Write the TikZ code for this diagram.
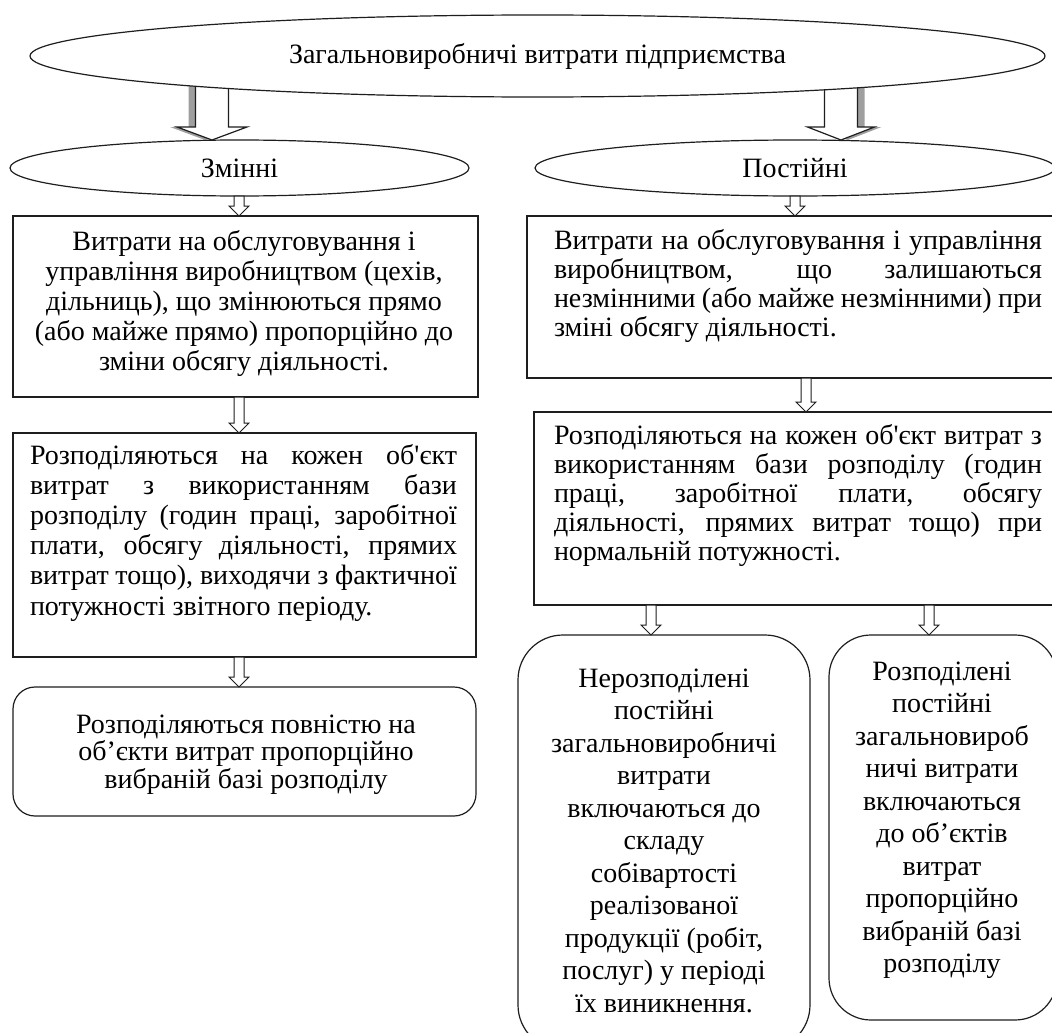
\documentclass[tikz,border=0pt]{standalone}
\usepackage{fontspec}
\setmainfont{Liberation Serif}
\usetikzlibrary{calc,shapes.geometric}
\newcommand\jl[2]{\makebox[#1][s]{#2}}
\newcommand\apos{\textquotesingle}
% hollow block arrow: [opts]{start}{end}{x}{half shaft}{half head}{head length}
\newcommand\barrow[7][]{%
  \draw[arr,#1] let \p1=(#2), \p2=(#3) in
  ({#4pt-#5pt},\y1) -- ({#4pt-#5pt},{\y2+#7pt}) -- ({#4pt-#6pt},{\y2+#7pt}) -- (#4pt,\y2)
  -- ({#4pt+#6pt},{\y2+#7pt}) -- ({#4pt+#5pt},{\y2+#7pt}) -- ({#4pt+#5pt},\y1) -- cycle;}
\definecolor{lc}{HTML}{1E1E1E}
\begin{document}
\begin{tikzpicture}[x=1pt,y=-1pt,
  every node/.style={inner sep=0pt, outer sep=0pt},
  bx/.style={draw=lc, line width=1.2pt, rectangle, anchor=north west},
  rbx/.style={bx, rounded corners=#1},
  ell/.style={draw=lc, line width=1.2pt, ellipse, fill=white, font=\fontsize{28}{30}\selectfont},
  arr/.style={draw=lc, line width=1pt, fill=white, line join=miter},
  shd/.style={fill=black!50, draw=none, opacity=0.75},
  tx/.style={font=\fontsize{28}{30}\selectfont, align=center},
  tj/.style={font=\fontsize{28}{30}\selectfont, align=left, anchor=west},
]
\useasboundingbox (0,0) rectangle (1052,1033);
\fill[white] (0,0) rectangle (1052,1033);

% second-level ellipses
\node[ell, minimum width=459pt, minimum height=56pt] (e1) at (239.5,168) {Змінні};
\node[ell, minimum width=520pt, minimum height=56pt] (e2) at (795,168) {Постійні};

% big arrows from the top ellipse
\coordinate (ta) at (212,80);
\coordinate (tb) at (841,80);
\barrow[shd,xshift=-7pt,yshift=-4pt]{ta}{e1.north}{212}{16.5}{35}{13}
\barrow[line width=1.2pt]{ta}{e1.north}{212}{16.5}{35}{13}
\barrow[shd,xshift=7pt,yshift=-4pt]{tb}{e2.north}{841}{16.5}{33.5}{13}
\barrow[line width=1.2pt]{tb}{e2.north}{841}{16.5}{33.5}{13}

% top ellipse
\node[ell, minimum width=1015pt, minimum height=82pt] (e0) at (537.5,56) {Загальновиробничі витрати підприємства};

% boxes
\node[bx, minimum width=465pt, minimum height=181pt] (b1l) at (13,216) {};
\node[bx, minimum width=535pt, minimum height=162pt] (b1r) at (527,216) {};
\node[bx, minimum width=463pt, minimum height=224pt] (b2l) at (13,433) {};
\node[bx, minimum width=528pt, minimum height=193pt] (b2r) at (534,412) {};
\node[rbx=22pt, minimum width=463pt, minimum height=129pt] (d) at (13,687) {};
\node[rbx=45pt, minimum width=292pt, minimum height=415pt] (c1) at (518,635) {};
\node[rbx=42pt, minimum width=228pt, minimum height=385pt] (c2) at (829,635) {};

% small arrows
\barrow{e1.south}{b1l.north}{239}{5}{10}{10}
\barrow{e2.south}{b1r.north}{795}{5}{10}{10}
\barrow{b1l.south}{b2l.north}{239}{5}{10}{10}
\barrow{b1r.south}{b2r.north}{806}{5}{10}{10}
\barrow{b2r.south}{c1.north}{651}{5}{10}{10}
\barrow{b2r.south}{c2.north}{929}{5}{10}{10}
\barrow{b2l.south}{d.north}{239}{5}{10}{10}

% texts
\node[tx] (t1l) at (244,303) {Витрати на обслуговування і\\управління виробництвом (цехів,\\дільниць), що змінюються прямо\\(або майже прямо) пропорційно до\\зміни обсягу діяльності.};
\node[tj, font=\fontsize{28}{28.7}\selectfont] (t1r) at (554,286) {\jl{488pt}{Витрати на обслуговування і управління}\\\jl{488pt}{виробництвом, що залишаються}\\\jl{488pt}{незмінними (або майже незмінними) при}\\зміні обсягу діяльності.};
\node[tj, font=\fontsize{28}{30.2}\selectfont] (t2l) at (30,532.5) {\jl{427pt}{Розподіляються на кожен об\apos єкт}\\\jl{427pt}{витрат з використанням бази}\\\jl{427pt}{розподілу (годин праці, заробітної}\\\jl{427pt}{плати, обсягу діяльності, прямих}\\\jl{427pt}{витрат тощо), виходячи з фактичної}\\потужності звітного періоду.};
\node[tj, font=\fontsize{28}{29}\selectfont] (t2r) at (554,495) {\jl{488pt}{Розподіляються на кожен об\apos єкт витрат з}\\\jl{488pt}{використанням бази розподілу (годин}\\\jl{488pt}{праці, заробітної плати, обсягу}\\\jl{488pt}{діяльності, прямих витрат тощо) при}\\нормальній потужності.};
\node[tx, font=\fontsize{28}{27.5}\selectfont] (td) at (246,754.5) {Розподіляються повністю на\\об’єкти витрат пропорційно\\вибраній базі розподілу};
\node[tx, font=\fontsize{28}{32.5}\selectfont] (tc1) at (664,840.5) {Нерозподілені\\постійні\\загальновиробничі\\витрати\\включаються до\\складу\\собівартості\\реалізованої\\продукції (робіт,\\послуг) у періоді\\їх виникнення.};
\node[tx, font=\fontsize{28}{32.5}\selectfont] (tc2) at (942,820) {Розподілені\\постійні\\загальновироб\\ничі витрати\\включаються\\до об’єктів\\витрат\\пропорційно\\вибраній базі\\розподілу};
\end{tikzpicture}
\end{document}
